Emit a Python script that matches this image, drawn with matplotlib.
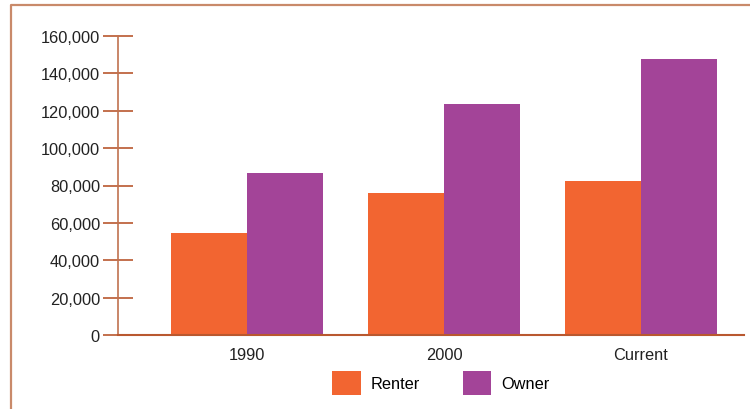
import numpy as np
import matplotlib
matplotlib.use('Agg')
import matplotlib.pyplot as plt
from matplotlib.lines import Line2D
from matplotlib.ticker import FuncFormatter

# data
groups = ['1990', '2000', 'Current']
renter = [54500, 76000, 82400]
owner = [86700, 123600, 147700]

RENTER_C = '#f26531'
OWNER_C = '#a34498'
AXIS_C = '#b9582f'
FRAME_C = '#c98a6a'
FS = 11.8

plt.rcParams['font.family'] = ['Liberation Sans', 'DejaVu Sans']

W, H = 750, 410
fig = plt.figure(figsize=(W / 100, H / 100), dpi=100)
ax = fig.add_axes([118 / W, (H - 336) / H, (744 - 118) / W, (336 - 37) / H])

x = np.arange(len(groups))
bw = 0.386
ax.bar(x - bw / 2, renter, width=bw, color=RENTER_C, label='Renter', zorder=1)
ax.bar(x + bw / 2, owner, width=bw, color=OWNER_C, label='Owner', zorder=1)

ax.set_xlim(-0.655, 2.523)
ax.set_ylim(0, 160000)
ax.set_yticks(np.arange(0, 160001, 20000))
ax.yaxis.set_major_formatter(FuncFormatter(lambda v, p: f'{int(v):,}'))
ax.set_xticks(x)
ax.set_xticklabels(groups)

for s in ['top', 'right']:
    ax.spines[s].set_visible(False)
ax.spines['left'].set_color('#c0724f')
ax.spines['bottom'].set_color(AXIS_C)
ax.spines['left'].set_linewidth(1.2)
ax.spines['bottom'].set_linewidth(1.5)

ax.tick_params(axis='y', direction='inout', length=22, width=1.2,
               color=AXIS_C, labelsize=FS, labelcolor='#222222', pad=2)
ax.tick_params(axis='x', length=0, labelsize=FS, labelcolor='#222222', pad=9)

ax.legend(loc='center', bbox_to_anchor=(441 / W, (H - 384) / H),
          bbox_transform=fig.transFigure, ncol=2, frameon=False,
          fontsize=FS, handlelength=1.75, handleheight=1.9,
          handletextpad=0.6, columnspacing=2.6)

# outer frame (left and top edges only)
fig.add_artist(Line2D([11 / W, 11 / W, 1], [0, (H - 6) / H, (H - 6) / H],
                      color=FRAME_C, linewidth=1.6, transform=fig.transFigure))

fig.savefig('out.png', dpi=100)
